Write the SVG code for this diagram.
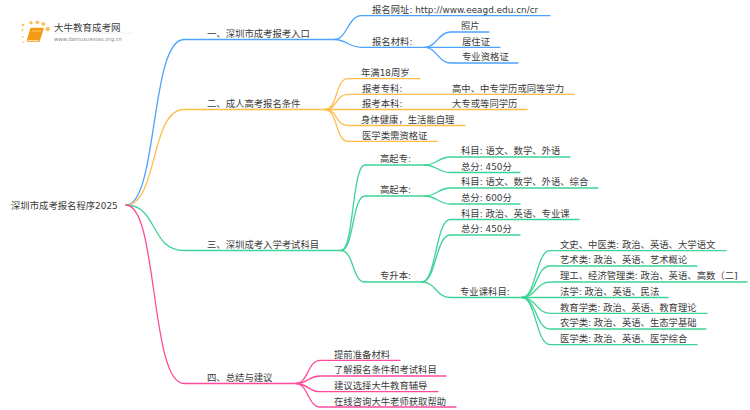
<svg xmlns="http://www.w3.org/2000/svg" width="750" height="410" viewBox="0 0 750 410">
<style>
text{font-family:"DejaVu Sans","Noto Sans CJK SC",sans-serif;font-size:9.35px;fill:#3a3a3a}
tspan{font-size:8.9px}
path{fill:none;stroke-width:1.3;stroke-linecap:round}
.b path{stroke:#4aa3ff}.o path{stroke:#ffbd4a}.g path{stroke:#3ed397}.p path{stroke:#ff4a9c}
</style>
<rect width="750" height="410" fill="#fff"/>
<g id="logo">
<g fill="#fbc25a"><circle cx="47.700" cy="29" r="2.200"/><circle cx="43.300" cy="24" r="1.900"/><circle cx="37.300" cy="22.300" r="1.900"/><circle cx="31" cy="22.700" r="1.700"/><circle cx="23" cy="25" r="1.300"/><circle cx="22.300" cy="30" r="1.100"/><circle cx="22.700" cy="36.700" r=".9"/><circle cx="23.300" cy="42.300" r=".8"/></g>
<path d="M31 28.500H43L39 41H27.500Z" style="fill:#f59a16;stroke:#f59a16;stroke-width:1.500;stroke-linejoin:round"/>
<path d="M28 40.500H38.500" style="stroke:#ffd9a0;stroke-width:1"/>
<path d="M32.500 31H41" style="stroke:#ffc46a;stroke-width:1"/>
<text x="54" y="30.500" style="font-size:9.500px">大牛教育成考网</text>
<text x="54" y="40.700" style="font-size:5.300px;fill:#8a8a8a">www.daniuxuexiao.org.cn</text>
<path d="M54 33H133" style="stroke:#e8e8e8;stroke-width:.6"/>
</g>
<g id="connectors">
<g class="b">
<path d="M126 205C158 205 150 39.500 184 39.500H335"/>
<path d="M335 39.500C346 39.500 349 15.700 361 15.700H550"/>
<path d="M335 39.500C346 39.500 349 47.300 361 47.300H425"/>
<path d="M425 47.300C436 47.300 439 32 450 32H489"/>
<path d="M425 47.300H500"/>
<path d="M425 47.300C436 47.300 439 63 450 63H518"/>
</g>
<g class="o">
<path d="M126 205C158 205 150 109.500 184 109.500H325"/>
<path d="M325 109.500C338 109.500 335 78.700 348 78.700H420"/>
<path d="M325 109.500C338 109.500 335 94.300 348 94.300H574"/>
<path d="M325 109.500H527"/>
<path d="M325 109.500C338 109.500 335 125.500 348 125.500H465"/>
<path d="M325 109.500C338 109.500 335 141.300 348 141.300H437"/>
</g>
<g class="g">
<path d="M126 205C158 205 150 250.500 184 250.500H341"/>
<path d="M341 250.500C354 250.500 352 165 365 165H425"/>
<path d="M341 250.500C354 250.500 352 196 365 196H425"/>
<path d="M341 250.500C354 250.500 352 282 365 282H422"/>
<path d="M425 165C436 165 439 157 450 157H570"/>
<path d="M425 165C436 165 439 172.500 450 172.500H520"/>
<path d="M425 196C436 196 439 188 450 188H598"/>
<path d="M425 196C436 196 439 204 450 204H520"/>
<path d="M422 282C436 282 436 219.500 450 219.500H579"/>
<path d="M422 282C436 282 436 235 450 235H520"/>
<path d="M422 282C436 282 436 297.500 450 297.500H522"/>
<path d="M522 297.500C536 297.500 536 250.700 550 250.700H726"/>
<path d="M522 297.500C536 297.500 536 266 550 266H697"/>
<path d="M522 297.500C536 297.500 536 282 550 282H747"/>
<path d="M522 297.500H668"/>
<path d="M522 297.500C536 297.500 536 313.300 550 313.300H707"/>
<path d="M522 297.500C536 297.500 536 329 550 329H706"/>
<path d="M522 297.500C536 297.500 536 344.700 550 344.700H697"/>
</g>
<g class="p">
<path d="M126 205C158 205 150 383.500 184 383.500H296"/>
<path d="M296 383.500C308 383.500 308 360.300 320 360.300H400"/>
<path d="M296 383.500C308 383.500 308 376 320 376H446"/>
<path d="M296 383.500C308 383.500 308 391.700 320 391.700H438"/>
<path d="M296 383.500C308 383.500 308 407 320 407H456"/>
</g>
</g>
<g id="root"><text x="11" y="208.500">深圳市成考报名程序<tspan>2025</tspan></text></g>
<g id="n1"><text x="207" y="36.500">一、深圳市成考报考入口</text></g>
<g id="n1-1"><text x="372" y="13">报名网址<tspan>: http://www.eeagd.edu.cn/cr</tspan></text></g>
<g id="n1-2"><text x="372" y="44.500">报名材料<tspan>:</tspan></text></g>
<g id="n1-2-1"><text x="461" y="29">照片</text></g>
<g id="n1-2-2"><text x="462" y="44.500">居住证</text></g>
<g id="n1-2-3"><text x="462" y="60">专业资格证</text></g>
<g id="n2"><text x="207" y="107">二、成人高考报名条件</text></g>
<g id="n2-1"><text x="361" y="76">年满<tspan>18</tspan>周岁</text></g>
<g id="n2-2"><text x="362" y="91.500">报考专科<tspan>:</tspan></text></g>
<g id="n2-2-1"><text x="452" y="91.500">高中、中专学历或同等学力</text></g>
<g id="n2-3"><text x="362" y="107">报考本科<tspan>:</tspan></text></g>
<g id="n2-3-1"><text x="452" y="107">大专或等同学历</text></g>
<g id="n2-4"><text x="361" y="122.500">身体健康，生活能自理</text></g>
<g id="n2-5"><text x="362" y="138.500">医学类需资格证</text></g>
<g id="n3"><text x="207" y="248">三、深圳成考入学考试科目</text></g>
<g id="n3-1"><text x="380" y="162">高起专<tspan>:</tspan></text></g>
<g id="n3-1-1"><text x="461" y="154">科目<tspan>: </tspan>语文、数学、外语</text></g>
<g id="n3-1-2"><text x="461" y="169.500">总分<tspan>: 450</tspan>分</text></g>
<g id="n3-2"><text x="380" y="193">高起本<tspan>:</tspan></text></g>
<g id="n3-2-1"><text x="461" y="185">科目<tspan>: </tspan>语文、数学、外语、综合</text></g>
<g id="n3-2-2"><text x="461" y="201">总分<tspan>: 600</tspan>分</text></g>
<g id="n3-3"><text x="380" y="279">专升本<tspan>:</tspan></text></g>
<g id="n3-3-1"><text x="461" y="216.500">科目<tspan>: </tspan>政治、英语、专业课</text></g>
<g id="n3-3-2"><text x="461" y="232">总分<tspan>: 450</tspan>分</text></g>
<g id="n3-3-3"><text x="460" y="294.500">专业课科目<tspan>:</tspan></text></g>
<g id="n3-3-3-1"><text x="560" y="248">文史、中医类<tspan>: </tspan>政治、英语、大学语文</text></g>
<g id="n3-3-3-2"><text x="560" y="263">艺术类<tspan>: </tspan>政治、英语、艺术概论</text></g>
<g id="n3-3-3-3"><text x="560" y="279">理工、经济管理类<tspan>: </tspan>政治、英语、高数（二]</text></g>
<g id="n3-3-3-4"><text x="560" y="295">法学<tspan>: </tspan>政治、英语、民法</text></g>
<g id="n3-3-3-5"><text x="560" y="310.500">教育学类<tspan>: </tspan>政治、英语、教育理论</text></g>
<g id="n3-3-3-6"><text x="560" y="326">农学类<tspan>: </tspan>政治、英语、生态学基础</text></g>
<g id="n3-3-3-7"><text x="560" y="342">医学类<tspan>: </tspan>政治、英语、医学综合</text></g>
<g id="n4"><text x="207" y="381">四、总结与建议</text></g>
<g id="n4-1"><text x="334" y="357.500">提前准备材料</text></g>
<g id="n4-2"><text x="334" y="373">了解报名条件和考试科目</text></g>
<g id="n4-3"><text x="334" y="389">建议选择大牛教育辅导</text></g>
<g id="n4-4"><text x="334" y="404.500">在线咨询大牛老师获取帮助</text></g>
</svg>
